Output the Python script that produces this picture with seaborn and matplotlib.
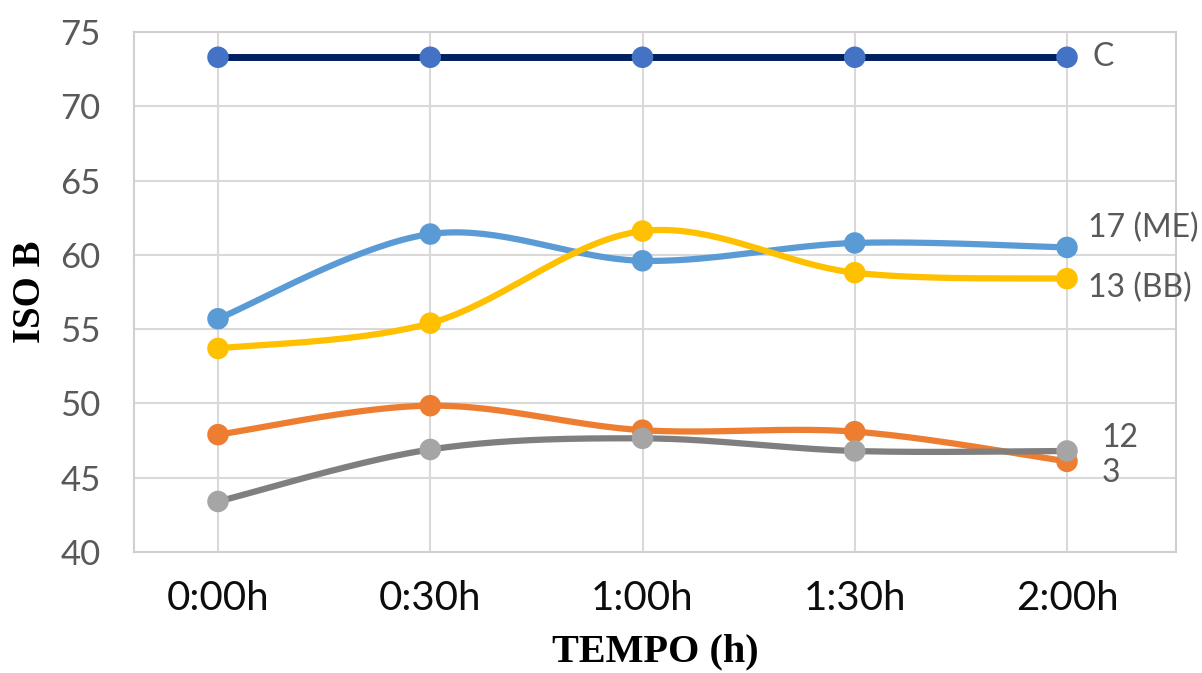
import numpy as np
import pandas as pd
import matplotlib
matplotlib.use("Agg")
import matplotlib.pyplot as plt
import seaborn as sns

# Time points and series values
tempos = ["0:00h", "0:30h", "1:00h", "1:30h", "2:00h"]
serie_c = [73.3, 73.3, 73.3, 73.3, 73.3]
serie_17 = [55.7, 61.4, 59.6, 60.8, 60.5]
serie_13 = [53.7, 55.4, 61.6, 58.8, 58.4]
serie_12 = [47.9, 49.85, 48.2, 48.1, 46.1]
serie_3 = [43.4, 46.9, 47.65, 46.8, 46.8]

nomes = ["C", "17 (ME)", "13 (BB)", "12", "3"]
yticks = [40, 45, 50, 55, 60, 65, 70, 75]

series = [serie_c, serie_17, serie_13, serie_12, serie_3]
line_colors = ["#002060", "#5B9BD5", "#FFC000", "#ED7D31", "#7F7F7F"]
marker_colors = ["#4472C4", "#5B9BD5", "#FFC000", "#ED7D31", "#A5A5A5"]
line_widths = [5.0, 4.5, 4.5, 4.5, 4.5]


def catmull_rom(x, y, n=40):
    """Smooth curve through the points (Catmull-Rom spline)."""
    x = np.asarray(x, float)
    y = np.asarray(y, float)
    px = np.concatenate([[x[0]], x, [x[-1]]])
    py = np.concatenate([[y[0]], y, [y[-1]]])
    xs, ys = [], []
    t = np.linspace(0, 1, n)
    for i in range(1, len(px) - 2):
        p0, p1, p2, p3 = (np.array([px[j], py[j]]) for j in range(i - 1, i + 3))
        t2, t3 = t * t, t * t * t
        pts = 0.5 * ((2 * p1)[:, None]
                     + (-p0 + p2)[:, None] * t
                     + (2 * p0 - 5 * p1 + 4 * p2 - p3)[:, None] * t2
                     + (-p0 + 3 * p1 - 3 * p2 + p3)[:, None] * t3)
        xs.append(pts[0])
        ys.append(pts[1])
    return np.concatenate(xs), np.concatenate(ys)


sns.set_theme(style="white")
plt.rcParams["font.family"] = ["Lato", "DejaVu Sans"]

fig = plt.figure(figsize=(12.02, 6.73), dpi=100)
ax = fig.add_axes([134 / 1202, 121 / 673, (1176 - 134) / 1202, (552 - 32) / 673])

xpos = np.arange(len(tempos))
for vals, name, lc, mc, lw in zip(series, nomes, line_colors, marker_colors, line_widths):
    sx, sy = catmull_rom(xpos, vals)
    curve = pd.DataFrame({"x": sx, "y": sy})
    sns.lineplot(data=curve, x="x", y="y", sort=False, color=lc, linewidth=lw,
                 ax=ax, zorder=3)
    pts = pd.DataFrame({"x": xpos, "y": vals})
    sns.scatterplot(data=pts, x="x", y="y", color=mc, s=240, edgecolor="none",
                    ax=ax, zorder=4)

# Series names at the right end of the lines
label_pos = {"C": (4.12, 73.3), "17 (ME)": (4.10, 61.8), "13 (BB)": (4.10, 57.8),
             "12": (4.16, 47.7), "3": (4.165, 45.3)}
for name in nomes:
    lx, ly = label_pos[name]
    ax.text(lx, ly, name, ha="left", va="center", fontsize=23, color="#595959")

ax.set_xlim(-84 / 212.25, 4 + 109 / 212.25)
ax.set_ylim(40, 75)
ax.set_xticks(xpos)
ax.set_xticklabels(tempos)
ax.set_yticks(yticks)
ax.tick_params(axis="y", labelsize=25, labelcolor="#595959", length=0, pad=24)
ax.tick_params(axis="x", labelsize=29, labelcolor="#0d0d0d", length=0, pad=20)

ax.grid(True, color="#d9d9d9", linewidth=1.5)
ax.set_axisbelow(True)
for side in ["left", "bottom", "top", "right"]:
    ax.spines[side].set_color("#d0d0d0")
    ax.spines[side].set_linewidth(1.5)

ax.set_xlabel("TEMPO (h)", fontsize=29, fontweight="bold",
              family=["Liberation Serif"], color="black", labelpad=12)
ax.set_ylabel("ISO B", fontsize=28, fontweight="bold",
              family=["Liberation Serif"], color="black", labelpad=8)

fig.savefig("out.png", dpi=100)
